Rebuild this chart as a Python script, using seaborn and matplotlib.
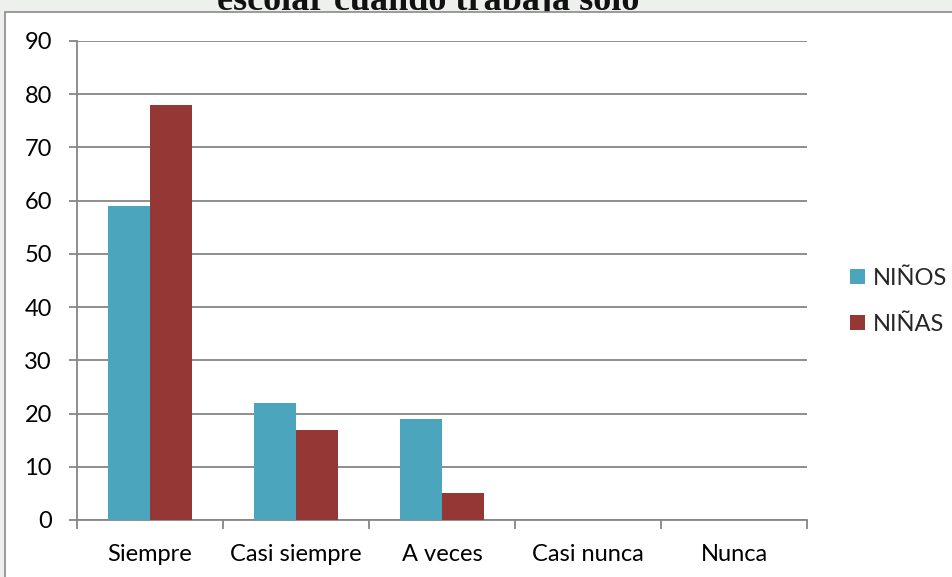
import matplotlib
matplotlib.use("Agg")
import matplotlib.pyplot as plt
from matplotlib.patches import Rectangle
import seaborn as sns
import pandas as pd

categories = ["Siempre", "Casi siempre", "A veces", "Casi nunca", "Nunca"]
ninos = [59, 22, 19, 0, 0]
ninas = [78, 17, 5, 0, 0]
series_names = ["NIÑOS", "NIÑAS"]
y_ticks = [0, 10, 20, 30, 40, 50, 60, 70, 80, 90]
title_text = "escolar cuando trabaja solo"

df = pd.DataFrame({
    "categoria": categories * 2,
    "valor": ninos + ninas,
    "grupo": [series_names[0]] * len(categories) + [series_names[1]] * len(categories),
})

sns.set_theme(style="white")
plt.rcParams["font.family"] = ["Lato", "DejaVu Sans"]

W, H = 953, 577
fig = plt.figure(figsize=(W / 100, H / 100), dpi=100)
fig.patch.set_facecolor("#eef0ee")

# partially visible heading above the frame
fig.text(428 / W, 1 - 10 / H, title_text, ha="center", va="baseline",
         family=["Liberation Serif", "DejaVu Serif"], fontweight="bold", fontsize=26,
         color="#111111", zorder=-3)

# chart frame
frame = Rectangle((5 / W, -0.1), 1.2, 1 - 12 / H + 0.1, transform=fig.transFigure,
                  facecolor="white", edgecolor="#8a8a8a", linewidth=1.2, zorder=-2)
fig.add_artist(frame)

ax = fig.add_axes([77 / W, 1 - 520 / H, (807 - 77) / W, (520 - 41) / H])
ax.set_facecolor("none")
ax.set_zorder(1)

palette = {"NIÑOS": "#4aa5bd", "NIÑAS": "#953735"}
sns.barplot(data=df, x="categoria", y="valor", hue="grupo", palette=palette,
            width=0.575, saturation=1, ax=ax, zorder=3, legend=True,
            linewidth=0, edgecolor="none")

ax.set_ylim(0, 90)
ax.set_xlim(-0.5, len(categories) - 0.5)
ax.set_yticks(y_ticks)
ax.yaxis.grid(True, color="#868686", linewidth=1.3, zorder=0)
ax.set_axisbelow(True)
for side in ["top", "right"]:
    ax.spines[side].set_visible(False)
for side in ["left", "bottom"]:
    ax.spines[side].set_color("#868686")
    ax.spines[side].set_linewidth(1.3)

FS = 17
ax.tick_params(axis="y", which="major", length=6, width=1.3, color="#868686",
               pad=12, labelsize=FS, labelcolor="black", left=True)
ax.set_xticks(range(len(categories)))
ax.set_xticklabels(categories)
ax.tick_params(axis="x", which="major", length=0, pad=17, labelsize=FS, labelcolor="black")
ax.set_xticks([i - 0.5 for i in range(len(categories) + 1)], minor=True)
ax.tick_params(axis="x", which="minor", length=6.5, width=1.3, color="#868686", bottom=True)
ax.set_xlabel("")
ax.set_ylabel("")

handles, labels = ax.get_legend_handles_labels()
ax.legend_.remove()
fig.legend(handles, labels, loc="upper left", bbox_to_anchor=(850 / W, 1 - 268 / H),
           frameon=False, fontsize=FS, handlelength=0.63, handleheight=0.6,
           handletextpad=0.35, labelspacing=1.07, borderpad=0, borderaxespad=0)

fig.savefig("out.png", dpi=100, facecolor=fig.get_facecolor())
